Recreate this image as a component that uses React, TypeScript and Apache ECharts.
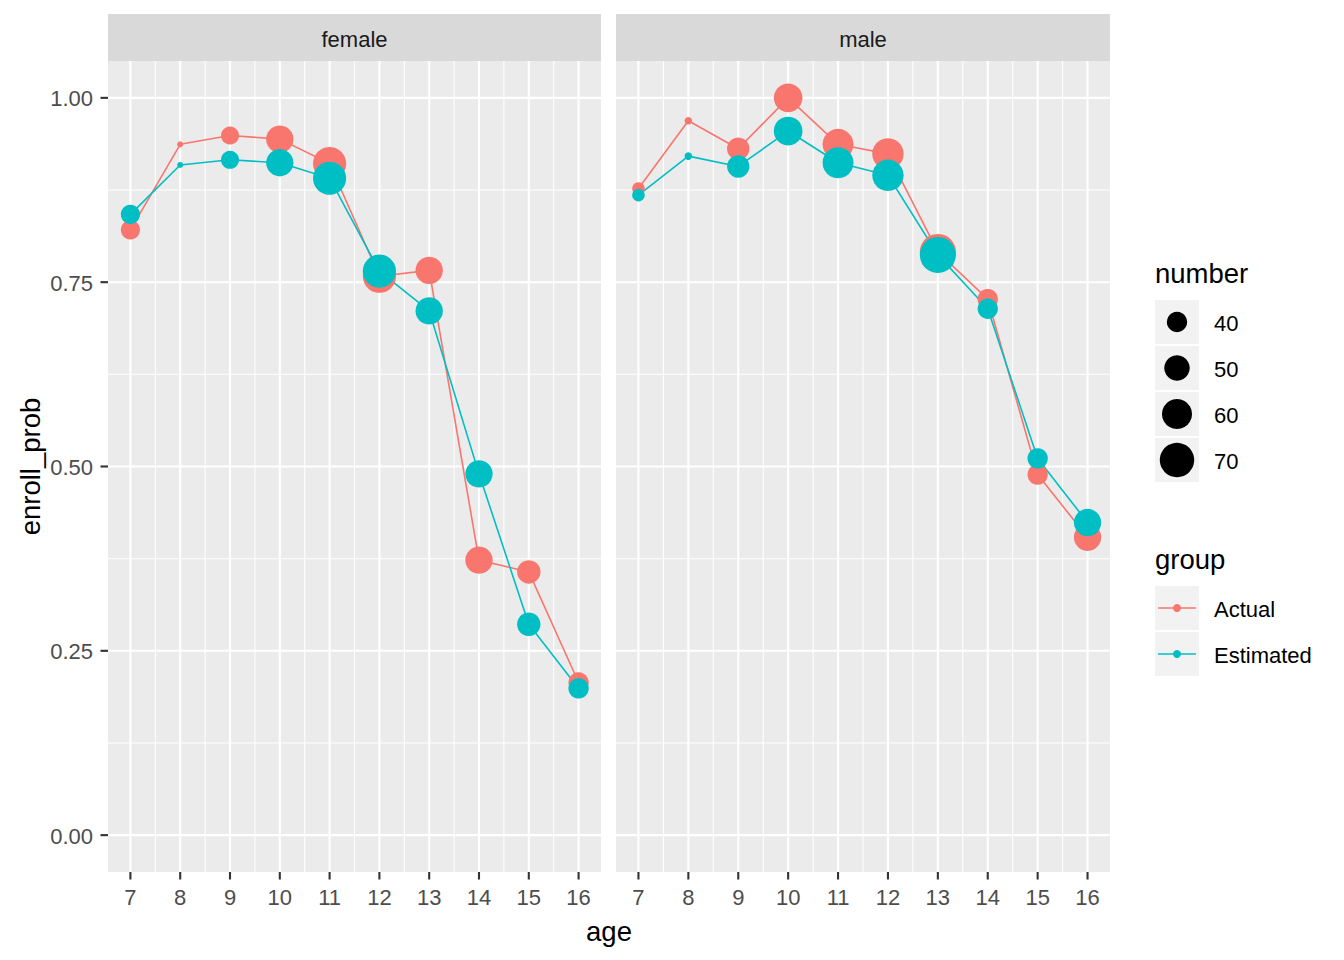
import React, { useEffect, useRef } from "react";
import * as echarts from "echarts";

// ---------- data ----------
const AGES = [7, 8, 9, 10, 11, 12, 13, 14, 15, 16];
const PANELS = ["female", "male"];
const GROUPS = ["Actual", "Estimated"];

const FEMALE_ACTUAL = [0.821, 0.937, 0.949, 0.944, 0.911, 0.758, 0.766, 0.373, 0.357, 0.207];
const FEMALE_ESTIMATED = [0.842, 0.909, 0.916, 0.912, 0.891, 0.765, 0.711, 0.49, 0.286, 0.199];
const MALE_ACTUAL = [0.877, 0.969, 0.931, 1.0, 0.937, 0.924, 0.791, 0.727, 0.489, 0.404];
const MALE_ESTIMATED = [0.868, 0.921, 0.907, 0.955, 0.912, 0.895, 0.787, 0.714, 0.511, 0.424];

const FEMALE_NUMBER = [38, 18, 36, 54, 67, 67, 54, 54, 46, 40];
const MALE_NUMBER = [27, 20, 44, 57, 62, 63, 74, 40, 40, 54];

const X_BREAKS = [7, 8, 9, 10, 11, 12, 13, 14, 15, 16];
const X_MINOR_BREAKS = [7.5, 8.5, 9.5, 10.5, 11.5, 12.5, 13.5, 14.5, 15.5];
const Y_BREAKS = [0, 0.25, 0.5, 0.75, 1.0];
const Y_LABELS = ["0.00", "0.25", "0.50", "0.75", "1.00"];
const Y_MINOR_BREAKS = [0.125, 0.375, 0.625, 0.875];

const NUMBER_BREAKS = [40, 50, 60, 70];

// ---------- styling ----------
const COLORS = ["#F8766D", "#00BFC4"];
const FONT = '"Liberation Sans", Arial, sans-serif';
const PANEL_LEFT = [108, 616];
const PANEL_WIDTH = [493, 494];
const PANEL_TOP = 61;
const PANEL_HEIGHT = 811;

const ALL_N = [...FEMALE_NUMBER, ...MALE_NUMBER];
const N_MIN = Math.min(...ALL_N);
const N_MAX = Math.max(...ALL_N);
const sizePx = (n: number) =>
  6 * (1 + (5 * (Math.sqrt(n) - Math.sqrt(N_MIN))) / (Math.sqrt(N_MAX) - Math.sqrt(N_MIN)));

const PANEL_DATA = [
  { actual: FEMALE_ACTUAL, estimated: FEMALE_ESTIMATED, number: FEMALE_NUMBER },
  { actual: MALE_ACTUAL, estimated: MALE_ESTIMATED, number: MALE_NUMBER },
];

function txt(text: string, x: number, y: number, size: number, color: string, align = "left", valign = "middle", extra: any = {}) {
  return {
    type: "text",
    x,
    y,
    z: 50,
    silent: true,
    ...extra,
    style: {
      text,
      x: 0,
      y: 0,
      fill: color,
      font: `${size}px ${FONT}`,
      fontSize: size,
      fontFamily: FONT,
      textAlign: align,
      align,
      textVerticalAlign: valign,
      verticalAlign: valign,
    },
  };
}

function gridSeries(panel: number) {
  const items: number[][] = [
    ...X_BREAKS.map((v, i) => [v, 0, i]),
    ...X_MINOR_BREAKS.map((v, i) => [v, 1, i]),
    ...Y_BREAKS.map((v, i) => [v, 2, i]),
    ...Y_MINOR_BREAKS.map((v, i) => [v, 3, i]),
  ];
  return {
    type: "custom",
    xAxisIndex: panel,
    yAxisIndex: panel,
    z: 1,
    silent: true,
    clip: false,
    data: items,
    renderItem: (params: any, api: any) => {
      const v = api.value(0);
      const kind = api.value(1);
      const idx = api.value(2);
      const cs = params.coordSys;
      const children: any[] = [];
      if (kind < 2) {
        const x = api.coord([v, 0.5])[0];
        children.push({
          type: "line",
          shape: { x1: x, y1: cs.y, x2: x, y2: cs.y + cs.height },
          style: { stroke: "#FFFFFF", lineWidth: kind === 0 ? 2.1 : 1.05 },
        });
        if (kind === 0) {
          const yb = cs.y + cs.height;
          children.push({
            type: "line",
            shape: { x1: x, y1: yb, x2: x, y2: yb + 7.5 },
            style: { stroke: "#333333", lineWidth: 2.1 },
          });
          children.push({
            type: "text",
            style: {
              text: String(X_BREAKS[idx]),
              x,
              y: yb + 25,
              fill: "#4D4D4D",
              font: `22px ${FONT}`,
              textAlign: "center",
              align: "center",
              textVerticalAlign: "middle",
              verticalAlign: "middle",
            },
          });
        }
      } else {
        const y = api.coord([10, v])[1];
        children.push({
          type: "line",
          shape: { x1: cs.x, y1: y, x2: cs.x + cs.width, y2: y },
          style: { stroke: "#FFFFFF", lineWidth: kind === 2 ? 2.1 : 1.05 },
        });
        if (kind === 2 && panel === 0) {
          children.push({
            type: "line",
            shape: { x1: cs.x - 7.5, y1: y, x2: cs.x, y2: y },
            style: { stroke: "#333333", lineWidth: 2.1 },
          });
          children.push({
            type: "text",
            style: {
              text: Y_LABELS[idx],
              x: cs.x - 15,
              y: y + 1,
              fill: "#4D4D4D",
              font: `22px ${FONT}`,
              textAlign: "right",
              align: "right",
              textVerticalAlign: "middle",
              verticalAlign: "middle",
            },
          });
        }
      }
      return { type: "group", children };
    },
  };
}

function buildOption() {
  const grids = PANELS.map((_, i) => ({
    left: PANEL_LEFT[i],
    top: PANEL_TOP,
    width: PANEL_WIDTH[i],
    height: PANEL_HEIGHT,
    show: true,
    backgroundColor: "#EBEBEB",
    borderWidth: 0,
    containLabel: false,
  }));
  const xAxes = PANELS.map((_, i) => ({
    type: "value",
    gridIndex: i,
    min: 6.55,
    max: 16.45,
    show: false,
  }));
  const yAxes = PANELS.map((_, i) => ({
    type: "value",
    gridIndex: i,
    min: -0.05,
    max: 1.05,
    show: false,
  }));

  const series: any[] = [];
  PANELS.forEach((_, p) => {
    series.push(gridSeries(p));
    const d = PANEL_DATA[p];
    const groupVals = [d.actual, d.estimated];
    groupVals.forEach((vals, g) => {
      series.push({
        type: "line",
        name: GROUPS[g],
        xAxisIndex: p,
        yAxisIndex: p,
        z: 2,
        silent: true,
        symbol: "none",
        showSymbol: false,
        lineStyle: { color: COLORS[g], width: 1.6 },
        itemStyle: { color: COLORS[g] },
        data: AGES.map((a, j) => [a, vals[j]]),
      });
    });
    groupVals.forEach((vals, g) => {
      series.push({
        type: "scatter",
        name: GROUPS[g],
        xAxisIndex: p,
        yAxisIndex: p,
        z: 3 + g,
        silent: true,
        symbol: "circle",
        symbolSize: (v: number[]) => sizePx(v[2]),
        itemStyle: { color: COLORS[g], opacity: 1 },
        data: AGES.map((a, j) => [a, vals[j], d.number[j]]),
      });
    });
  });

  const graphic: any[] = [];
  // strips
  PANELS.forEach((name, i) => {
    graphic.push({
      type: "rect",
      z: 40,
      silent: true,
      shape: { x: PANEL_LEFT[i], y: 14, width: PANEL_WIDTH[i], height: 47 },
      style: { fill: "#D9D9D9" },
    });
    graphic.push(txt(name, PANEL_LEFT[i] + PANEL_WIDTH[i] / 2, 39, 22, "#1A1A1A", "center"));
  });
  // axis titles
  graphic.push(txt("age", (PANEL_LEFT[0] + PANEL_LEFT[1] + PANEL_WIDTH[1]) / 2, 931, 27.5, "#000000", "center"));
  graphic.push(txt("enroll_prob", 30, PANEL_TOP + PANEL_HEIGHT / 2, 27.5, "#000000", "center", "middle", { rotation: Math.PI / 2 }));

  // legend: number
  const LX = 1155;
  graphic.push(txt("number", LX, 273, 27.5, "#000000", "left"));
  NUMBER_BREAKS.forEach((n, i) => {
    const ky = 300 + i * 46;
    graphic.push({
      type: "rect",
      z: 40,
      silent: true,
      shape: { x: LX, y: ky, width: 44, height: 44 },
      style: { fill: "#F2F2F2" },
    });
    graphic.push({
      type: "circle",
      z: 45,
      silent: true,
      shape: { cx: LX + 22, cy: ky + 22, r: sizePx(n) / 2 },
      style: { fill: "#000000" },
    });
    graphic.push(txt(String(n), LX + 59, ky + 23, 22, "#000000", "left"));
  });
  // legend: group
  graphic.push(txt("group", LX, 559, 27.5, "#000000", "left"));
  GROUPS.forEach((g, i) => {
    const ky = 586 + i * 46;
    graphic.push({
      type: "rect",
      z: 40,
      silent: true,
      shape: { x: LX, y: ky, width: 44, height: 44 },
      style: { fill: "#F2F2F2" },
    });
    graphic.push({
      type: "line",
      z: 45,
      silent: true,
      shape: { x1: LX + 3, y1: ky + 22, x2: LX + 41, y2: ky + 22 },
      style: { stroke: COLORS[i], lineWidth: 1.6 },
    });
    graphic.push({
      type: "circle",
      z: 46,
      silent: true,
      shape: { cx: LX + 22, cy: ky + 22, r: 4 },
      style: { fill: COLORS[i] },
    });
    graphic.push(txt(g, LX + 59, ky + 23, 22, "#000000", "left"));
  });

  return {
    animation: false,
    backgroundColor: "#FFFFFF",
    grid: grids,
    xAxis: xAxes,
    yAxis: yAxes,
    series,
    graphic,
  };
}

export default function App() {
  const ref = useRef<HTMLDivElement>(null);
  useEffect(() => {
    document.body.style.margin = "0";
    if (!ref.current) return;
    const chart = echarts.init(ref.current, undefined, { renderer: "svg" });
    chart.setOption(buildOption() as any);
    return () => chart.dispose();
  }, []);
  return <div ref={ref} style={{ width: 1344, height: 960 }} />;
}
